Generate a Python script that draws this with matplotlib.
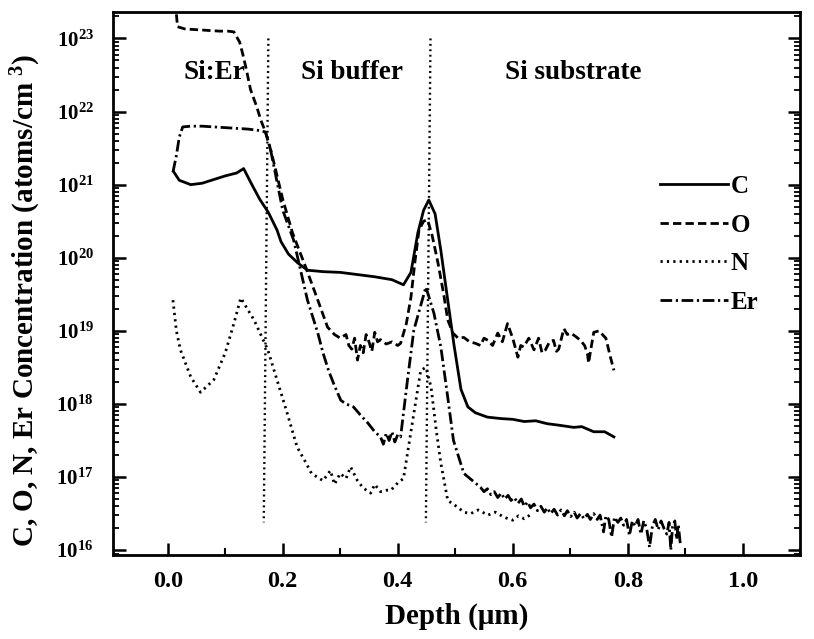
import numpy as np
import matplotlib
matplotlib.use("Agg")
import matplotlib.pyplot as plt
from matplotlib.ticker import LogLocator, NullFormatter, MultipleLocator, LogFormatterMathtext

plt.rcParams["font.family"] = ["Liberation Serif", "DejaVu Serif"]
plt.rcParams["font.weight"] = "bold"
plt.rcParams["mathtext.fontset"] = "custom"
plt.rcParams["mathtext.rm"] = "Liberation Serif:bold"
plt.rcParams["mathtext.bf"] = "Liberation Serif:bold"
plt.rcParams["mathtext.it"] = "Liberation Serif:bold:italic"

# SIMS depth profiles, depth in um, log10 of concentration in atoms/cm^3
c_depth = [0.01, 0.02, 0.04, 0.06, 0.08, 0.10, 0.12, 0.132, 0.145, 0.16, 0.175, 0.19, 0.197,
           0.21, 0.226, 0.243, 0.27, 0.30, 0.33, 0.36, 0.39, 0.41, 0.423, 0.435, 0.445, 0.454,
           0.465, 0.475, 0.487, 0.498, 0.51, 0.522, 0.535, 0.556, 0.58, 0.60, 0.62, 0.64, 0.66,
           0.68, 0.706, 0.72, 0.741, 0.76, 0.776]
c_log = [21.18, 21.06, 21.0, 21.02, 21.07, 21.12, 21.16, 21.22, 21.02, 20.8, 20.62, 20.38, 20.22,
         20.05, 19.93, 19.83, 19.81, 19.8, 19.77, 19.74, 19.7, 19.63, 19.8, 20.34, 20.65, 20.79,
         20.6, 20.1, 19.42, 18.8, 18.2, 17.96, 17.88, 17.82, 17.8, 17.79, 17.76, 17.77, 17.73,
         17.71, 17.68, 17.69, 17.62, 17.62, 17.55]

o_depth = [0.013, 0.017, 0.03, 0.05, 0.07, 0.09, 0.105, 0.115, 0.125, 0.13, 0.136, 0.144, 0.155,
           0.162, 0.17, 0.18, 0.2, 0.217, 0.24, 0.261, 0.278, 0.29, 0.30, 0.31, 0.315, 0.32,
           0.325, 0.33, 0.335, 0.34, 0.345, 0.35, 0.355, 0.36, 0.365, 0.37, 0.38, 0.39, 0.40,
           0.405, 0.415, 0.423, 0.43, 0.437, 0.445, 0.452, 0.46, 0.47, 0.48, 0.487, 0.496, 0.505,
           0.515, 0.525, 0.535, 0.544, 0.55, 0.557, 0.565, 0.574, 0.582, 0.591, 0.60, 0.609,
           0.614, 0.619, 0.628, 0.637, 0.645, 0.651, 0.657, 0.664, 0.671, 0.676, 0.68, 0.689,
           0.695, 0.701, 0.71, 0.718, 0.725, 0.73, 0.732, 0.737, 0.741, 0.75, 0.756, 0.762,
           0.77, 0.776]
o_log = [23.5, 23.16, 23.13, 23.12, 23.11, 23.1, 23.1, 23.09, 22.95, 22.8, 22.6, 22.3, 22.06,
         21.88, 21.72, 21.45, 20.8, 20.34, 19.87, 19.42, 19.05, 18.95, 18.9, 18.95, 18.8, 18.75,
         18.9, 18.6, 18.8, 18.7, 18.95, 18.85, 18.72, 18.98, 18.85, 18.88, 18.82, 18.85, 18.8,
         18.83, 19.1, 19.46, 19.95, 20.38, 20.5, 20.52, 20.3, 19.93, 19.5, 19.15, 18.97, 18.9,
         18.91, 18.85, 18.83, 18.8, 18.9, 18.87, 18.8, 18.97, 18.85, 19.1, 18.9, 18.64,
         18.8, 18.78, 18.9, 18.74, 18.9, 18.7, 18.74, 18.85, 18.87, 18.72, 18.75, 19.03,
         18.95, 18.97, 18.92, 18.87, 18.8, 18.69, 18.56, 18.8, 18.98, 19.0, 18.95, 18.9,
         18.64, 18.46]

n_depth = [0.009, 0.015, 0.022, 0.04, 0.057, 0.08, 0.10, 0.115, 0.127, 0.15, 0.174, 0.19, 0.206,
           0.225, 0.24, 0.25, 0.26, 0.27, 0.283, 0.29, 0.30, 0.31, 0.318, 0.33, 0.34, 0.353,
           0.36, 0.37, 0.38, 0.388, 0.40, 0.41, 0.428, 0.44, 0.449, 0.458, 0.467, 0.475, 0.487,
           0.504, 0.515, 0.527, 0.54, 0.557, 0.57, 0.585, 0.60, 0.61, 0.62, 0.63]
n_log = [19.42, 19.0, 18.74, 18.37, 18.16, 18.33, 18.7, 19.1, 19.45, 19.15, 18.74, 18.33, 17.92,
         17.41, 17.2, 17.05, 17.0, 16.95, 17.09, 16.9, 17.05, 16.98, 17.14, 16.95, 16.85, 16.78,
         16.9, 16.8, 16.82, 16.82, 16.92, 16.98, 17.87, 18.46, 18.5, 18.23, 17.64, 17.19, 16.68,
         16.59, 16.52, 16.5, 16.55, 16.48, 16.52, 16.45, 16.41, 16.47, 16.43, 16.48]

er_depth = [0.009, 0.015, 0.02, 0.026, 0.04, 0.06, 0.08, 0.10, 0.12, 0.14, 0.16, 0.17, 0.179,
            0.2, 0.219, 0.231, 0.243, 0.261, 0.27, 0.28, 0.29, 0.301, 0.31, 0.323, 0.335, 0.348,
            0.36, 0.37, 0.375, 0.38, 0.385, 0.39, 0.395, 0.40, 0.405, 0.417, 0.428, 0.449, 0.463,
            0.475, 0.487, 0.497, 0.515, 0.544, 0.55, 0.556, 0.562, 0.568, 0.574, 0.58, 0.586,
            0.592, 0.597, 0.603, 0.609, 0.615, 0.62, 0.626, 0.631, 0.637, 0.643, 0.649, 0.655,
            0.66, 0.666, 0.672, 0.678, 0.684, 0.69, 0.695, 0.701, 0.707, 0.712, 0.718, 0.724,
            0.73, 0.735, 0.741, 0.747, 0.752, 0.758, 0.762, 0.767, 0.772, 0.777, 0.783, 0.788,
            0.793, 0.798, 0.803, 0.808, 0.813, 0.818, 0.823, 0.828, 0.833, 0.838, 0.843, 0.848,
            0.853, 0.858, 0.863, 0.868, 0.872, 0.875, 0.878, 0.882, 0.885, 0.888, 0.892]
er_log = [21.17, 21.4, 21.65, 21.79, 21.8, 21.8, 21.79, 21.78, 21.77, 21.76, 21.74, 21.72, 21.47,
          20.65, 20.24, 19.83, 19.42, 18.97, 18.7, 18.45, 18.25, 18.05, 18.0, 17.96, 17.85, 17.74,
          17.62, 17.55, 17.45, 17.6, 17.5, 17.62, 17.48, 17.58, 17.55, 18.33, 19.01, 19.6, 19.24,
          18.78, 18.09, 17.5, 17.05, 16.86, 16.8, 16.84, 16.76, 16.8, 16.72, 16.78, 16.7,
          16.75, 16.68, 16.72, 16.64, 16.7, 16.6, 16.66, 16.58, 16.63, 16.54, 16.6, 16.52,
          16.58, 16.5, 16.56, 16.48, 16.55, 16.47, 16.54, 16.46, 16.52, 16.44, 16.5, 16.43,
          16.49, 16.42, 16.5, 16.42, 16.48, 16.25, 16.47, 16.42, 16.18, 16.45, 16.38, 16.44,
          16.34, 16.42, 16.2, 16.4, 16.33, 16.42, 16.22, 16.4, 16.3, 16.04, 16.33, 16.42,
          16.28, 16.4, 16.3, 16.22, 16.38, 16.0, 16.32, 16.4, 16.15, 16.35, 16.05]

# layer interfaces (slightly tilted dotted markers), top / bottom depth
iface_top = [0.175, 0.457]
iface_bot = [0.167, 0.449]
iface_log = [23.0, 16.38]

regions = ["Si:Er", "Si buffer", "Si substrate"]
region_x = [0.082, 0.32, 0.706]
region_log = 22.53

fig = plt.figure(figsize=(8.14, 6.39), dpi=100)
ax = fig.add_axes([0.139, 0.131, 0.844, 0.850])

lw = 2.0
ax.plot(c_depth, 10 ** np.array(c_log), color="black", lw=lw, ls="-", label="C")
ax.plot(o_depth, 10 ** np.array(o_log), color="black", lw=lw, ls=(0, (3.0, 1.5)), label="O")
ax.plot(n_depth, 10 ** np.array(n_log), color="black", lw=lw, ls=(0, (0.8, 1.5)), label="N")
ax.plot(er_depth, 10 ** np.array(er_log), color="black", lw=lw, ls=(0, (4.2, 1.3, 0.8, 1.3)), label="Er")

for xt, xb in zip(iface_top, iface_bot):
    ax.plot([xt, xb], 10 ** np.array(iface_log), color="black", lw=1.7, ls=(0, (0.8, 1.5)))

for name, xr in zip(regions, region_x):
    ax.text(xr, 10 ** region_log, name, ha="center", va="center", fontsize=19.5, fontweight="bold")

ax.set_yscale("log")
ax.set_xlim(-0.095, 1.1)
ax.set_ylim(10 ** 15.93, 10 ** 23.36)

ax.xaxis.set_minor_locator(MultipleLocator(0.1))
ax.set_xticks([0.0, 0.2, 0.4, 0.6, 0.8, 1.0])
ax.set_xticklabels(["0.0", "0.2", "0.4", "0.6", "0.8", "1.0"])
ax.yaxis.set_major_locator(LogLocator(base=10, numticks=20))
ax.yaxis.set_minor_locator(LogLocator(base=10, subs=np.arange(2, 10), numticks=20))
ax.yaxis.set_major_formatter(LogFormatterMathtext())
ax.yaxis.set_minor_formatter(NullFormatter())

ax.tick_params(axis="both", which="both", direction="in", top=False, right=True)
ax.tick_params(axis="x", which="major", length=9, width=1.8, labelsize=17.5, pad=11)
ax.tick_params(axis="x", which="minor", length=5, width=1.5)
ax.tick_params(axis="y", which="major", length=9, width=1.8, labelsize=15, pad=14)
ax.tick_params(axis="y", which="minor", length=4.5, width=1.3)
for lab in ax.get_xticklabels() + ax.get_yticklabels():
    lab.set_fontweight("bold")
for sp in ax.spines.values():
    sp.set_linewidth(2.0)

ax.set_xlabel("Depth (\u03bcm)", fontsize=21, fontweight="bold", labelpad=8)
ax.set_ylabel("C, O, N, Er Concentration (atoms/cm $^{3}$)", fontsize=21, fontweight="bold")
ax.yaxis.set_label_coords(-0.102, 0.47)

leg = ax.legend(loc="upper left", bbox_to_anchor=(0.796, 0.70), frameon=False, fontsize=18,
                handlelength=2.7, handletextpad=0.12, labelspacing=0.62, borderpad=0, borderaxespad=0)
for t in leg.get_texts():
    t.set_fontweight("bold")

fig.savefig("out.png", dpi=100)
